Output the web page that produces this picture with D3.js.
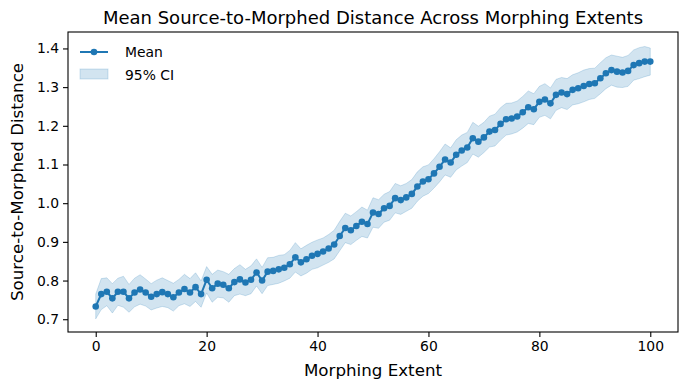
<!DOCTYPE html>
<html>
<head>
<meta charset="utf-8">
<script src="https://cdn.jsdelivr.net/npm/d3@7"></script>
<style>
  body { margin: 0; background: #fff; }
  text { font-family: "DejaVu Sans", sans-serif; fill: #000; }
</style>
</head>
<body>
<div id="container"></div>
<script>
// morphing extent 0..100
var extent = d3.range(0, 101);

var meanDist = [
  0.733, 0.765, 0.771, 0.754, 0.771, 0.771, 0.754, 0.769, 0.777, 0.769,
  0.758, 0.765, 0.770, 0.765, 0.757, 0.769, 0.778, 0.769, 0.783, 0.765,
  0.802, 0.780, 0.792, 0.789, 0.780, 0.796, 0.803, 0.795, 0.802, 0.821,
  0.800, 0.823, 0.825, 0.829, 0.833, 0.842, 0.860, 0.847, 0.855, 0.864,
  0.869, 0.875, 0.883, 0.893, 0.915, 0.936, 0.930, 0.941, 0.952, 0.946,
  0.976, 0.972, 0.987, 0.993, 1.013, 1.008, 1.015, 1.024, 1.043, 1.056,
  1.062, 1.077, 1.094, 1.113, 1.105, 1.125, 1.136, 1.144, 1.168, 1.159,
  1.170, 1.185, 1.189, 1.205, 1.217, 1.219, 1.224, 1.235, 1.248, 1.243,
  1.262, 1.268, 1.258, 1.280, 1.286, 1.282, 1.293, 1.297, 1.303, 1.308,
  1.310, 1.323, 1.336, 1.344, 1.340, 1.338, 1.342, 1.357, 1.362, 1.366,
  1.366
];

// half width of the 95% CI
var ciHalf = [
  0.032, 0.040, 0.036, 0.038, 0.035, 0.040, 0.036, 0.037, 0.038, 0.035,
  0.034, 0.036, 0.037, 0.035, 0.036, 0.034, 0.038, 0.036, 0.037, 0.034,
  0.034, 0.036, 0.035, 0.034, 0.036, 0.035, 0.038, 0.034, 0.036, 0.035,
  0.034, 0.036, 0.035, 0.036, 0.034, 0.036, 0.038, 0.035, 0.036, 0.035,
  0.036, 0.035, 0.036, 0.037, 0.038, 0.038, 0.037, 0.037, 0.038, 0.036,
  0.038, 0.037, 0.036, 0.037, 0.038, 0.037, 0.036, 0.037, 0.038, 0.038,
  0.037, 0.038, 0.039, 0.040, 0.038, 0.039, 0.040, 0.039, 0.041, 0.040,
  0.039, 0.040, 0.041, 0.042, 0.041, 0.040, 0.040, 0.041, 0.042, 0.040,
  0.040, 0.041, 0.040, 0.040, 0.039, 0.040, 0.039, 0.040, 0.041, 0.040,
  0.039, 0.040, 0.040, 0.039, 0.040, 0.039, 0.040, 0.039, 0.040, 0.039,
  0.035
];

var xTicks = [0, 20, 40, 60, 80, 100];
var yTicks = [0.7, 0.8, 0.9, 1.0, 1.1, 1.2, 1.3, 1.4];

var blue = "#1f77b4";

width = 690;
height = 390;

var margin = { left: 68, right: 12, top: 32, bottom: 58 };

var svg = d3.select("#container").append("svg")
    .attr("width", width)
    .attr("height", height);

var x = d3.scaleLinear()
    .domain([-5, 105])
    .range([margin.left, width - margin.right]);

var y = d3.scaleLinear()
    .domain([0.667, 1.4425])
    .range([height - margin.bottom, margin.top]);

var data = extent.map(function(e, i) {
  return { x: e, m: meanDist[i], lo: meanDist[i] - ciHalf[i], hi: meanDist[i] + ciHalf[i] };
});

// CI band
var area = d3.area()
    .x(function(d) { return x(d.x); })
    .y0(function(d) { return y(d.lo); })
    .y1(function(d) { return y(d.hi); });

svg.append("path")
    .datum(data)
    .attr("d", area)
    .attr("fill", blue)
    .attr("fill-opacity", 0.2)
    .attr("stroke", blue)
    .attr("stroke-opacity", 0.2)
    .attr("stroke-width", 1);

// mean line + markers
var line = d3.line()
    .x(function(d) { return x(d.x); })
    .y(function(d) { return y(d.m); });

svg.append("path")
    .datum(data)
    .attr("d", line)
    .attr("fill", "none")
    .attr("stroke", blue)
    .attr("stroke-width", 2);

svg.append("g")
  .selectAll("circle")
  .data(data)
  .enter().append("circle")
    .attr("cx", function(d) { return x(d.x); })
    .attr("cy", function(d) { return y(d.m); })
    .attr("r", 3.3)
    .attr("fill", blue);

// axes
var xAxis = svg.append("g")
    .attr("transform", "translate(0," + (height - margin.bottom) + ")")
    .call(d3.axisBottom(x).tickValues(xTicks).tickSize(5).tickPadding(4).tickFormat(d3.format("d")));

var yAxis = svg.append("g")
    .attr("transform", "translate(" + margin.left + ",0)")
    .call(d3.axisLeft(y).tickValues(yTicks).tickSize(5).tickPadding(4).tickFormat(d3.format(".1f")));

[xAxis, yAxis].forEach(function(a) {
  a.select(".domain").remove();
  a.selectAll("line").attr("stroke", "#000").attr("stroke-width", 1.1);
  a.selectAll("text").attr("font-size", 13.9).attr("font-family", "DejaVu Sans").attr("fill", "#000");
});

// frame
svg.append("rect")
    .attr("x", margin.left)
    .attr("y", margin.top)
    .attr("width", width - margin.left - margin.right)
    .attr("height", height - margin.top - margin.bottom)
    .attr("fill", "none")
    .attr("stroke", "#000")
    .attr("stroke-width", 1.1);

// title and labels
svg.append("text")
    .attr("x", (margin.left + width - margin.right) / 2)
    .attr("y", 24)
    .attr("text-anchor", "middle")
    .attr("font-size", 18)
    .text("Mean Source-to-Morphed Distance Across Morphing Extents");

svg.append("text")
    .attr("x", (margin.left + width - margin.right) / 2)
    .attr("y", 376)
    .attr("text-anchor", "middle")
    .attr("font-size", 16.7)
    .text("Morphing Extent");

svg.append("text")
    .attr("transform", "translate(23," + ((margin.top + height - margin.bottom) / 2) + ") rotate(-90)")
    .attr("text-anchor", "middle")
    .attr("font-size", 16.7)
    .text("Source-to-Morphed Distance");

// legend
var leg = svg.append("g").attr("transform", "translate(80,52)");

leg.append("line")
    .attr("x1", 0).attr("x2", 28).attr("y1", 0).attr("y2", 0)
    .attr("stroke", blue).attr("stroke-width", 2);
leg.append("circle").attr("cx", 14).attr("cy", 0).attr("r", 3.3).attr("fill", blue);
leg.append("text").attr("x", 45).attr("y", 5).attr("font-size", 13.9).text("Mean");

leg.append("rect")
    .attr("x", 0).attr("y", 17).attr("width", 28).attr("height", 10)
    .attr("fill", blue).attr("fill-opacity", 0.2)
    .attr("stroke", blue).attr("stroke-opacity", 0.2);
leg.append("text").attr("x", 45).attr("y", 28).attr("font-size", 13.9).text("95% CI");
</script>
</body>
</html>
